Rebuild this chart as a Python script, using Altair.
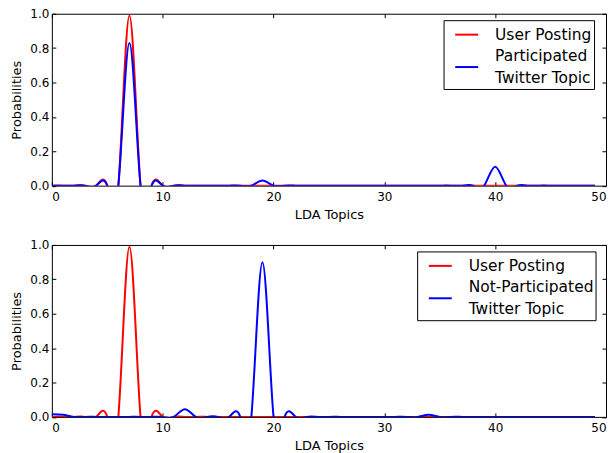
import altair as alt
import pandas as pd

# LDA topic index (0..49)
topics = list(range(50))

# Panel 1 values
user_posting_1 = [0, 0, 0, 0, 0, 0, 0, 0.99, 0, 0,
                  0, 0, 0, 0, 0, 0, 0, 0, 0, 0,
                  0, 0, 0, 0, 0, 0, 0, 0, 0, 0,
                  0, 0, 0, 0, 0, 0, 0, 0, 0, 0,
                  0, 0, 0, 0, 0, 0, 0, 0, 0, 0]
participated_1 = [0, 0, 0, 0, 0, 0, 0, 0.83, 0, 0,
                  0, 0, 0, 0, 0, 0, 0, 0, 0, 0.03,
                  0, 0, 0, 0, 0, 0, 0, 0, 0, 0,
                  0, 0, 0, 0, 0, 0, 0, 0, 0, 0,
                  0.11, 0, 0, 0, 0, 0, 0, 0, 0, 0]

# Panel 2 values
user_posting_2 = [0, 0, 0, 0, 0, 0, 0, 0.99, 0, 0,
                  0, 0, 0, 0, 0, 0, 0, 0, 0, 0,
                  0, 0, 0, 0, 0, 0, 0, 0, 0, 0,
                  0, 0, 0, 0, 0, 0, 0, 0, 0, 0,
                  0, 0, 0, 0, 0, 0, 0, 0, 0, 0]
not_participated_2 = [0.015, 0.012, 0, 0, 0, 0, 0, 0, 0, 0,
                      0, 0, 0.045, 0, 0, 0, 0, 0, 0, 0.90,
                      0, 0, 0, 0, 0, 0, 0, 0, 0, 0,
                      0, 0, 0, 0, 0.012, 0, 0, 0, 0, 0,
                      0, 0, 0, 0, 0, 0, 0, 0, 0, 0]

series_red = "User Posting"
blue_lines_1 = ["Participated", "Twitter Topic"]
blue_lines_2 = ["Not-Participated", "Twitter Topic"]
RED, BLUE = "#ff0000", "#0000ff"

x_ticks = [0, 10, 20, 30, 40, 50]
y_ticks = [0.0, 0.2, 0.4, 0.6, 0.8, 1.0]

FONT = "DejaVu Sans"
W, H = 556, 172.5
PAD = 2
SYM_OFF = 8.7


def make_df(vals, name):
    return pd.DataFrame({"topic": topics, "prob": vals, "series": [name] * len(topics)})


def legend_common():
    return dict(
        title=None,
        orient="none",
        symbolType="stroke",
        symbolSize=529,
        symbolStrokeWidth=2,
        symbolOffset=SYM_OFF,
        labelOffset=16,
        labelFont=FONT,
        labelFontSize=15.5,
        labelColor="black",
        labelLimit=400,
        labelBaseline="middle",
        cornerRadius=0,
    )


def js_list(items):
    return "[" + ", ".join("'" + s + "'" for s in items) + "]"


def panel(red_vals, blue_vals, blue_lines, box_x, box_y):
    blue_name = " ".join(blue_lines)
    xscale = alt.Scale(domain=[0, 50], nice=False)
    yscale = alt.Scale(domain=[0, 1], nice=False)

    # boxed legend carries all label text; second legend adds the blue swatch
    red_legend = alt.Legend(
        legendX=box_x, legendY=box_y,
        padding=PAD,
        strokeColor="black",
        labelExpr=js_list([series_red] + blue_lines),
        **legend_common(),
    )
    blue_legend = alt.Legend(
        legendX=box_x + PAD, legendY=box_y + PAD + 32.5,
        padding=0,
        labelExpr="''",
        **legend_common(),
    )

    red = alt.Chart(make_df(red_vals, series_red)).mark_line(
        interpolate="natural", clip=True, strokeWidth=2
    ).encode(
        x=alt.X("topic:Q", scale=xscale, title="LDA Topics",
                axis=alt.Axis(orient="bottom", values=x_ticks, offset=-4,
                              labelPadding=6, titlePadding=6, format="d",
                              minExtent=0)),
        y=alt.Y("prob:Q", scale=yscale, title="Probabilities",
                axis=alt.Axis(orient="left", values=y_ticks, offset=-4,
                              labelPadding=3, titlePadding=6, format=".1f",
                              minExtent=0)),
        color=alt.Color("series:N",
                        scale=alt.Scale(domain=[series_red], range=[RED]),
                        legend=red_legend),
    )
    blue = alt.Chart(make_df(blue_vals, blue_name)).mark_line(
        interpolate="natural", clip=True, strokeWidth=2
    ).encode(
        x=alt.X("topic:Q", scale=xscale, title=None,
                axis=alt.Axis(orient="top", values=x_ticks, offset=-4,
                              labels=False, minExtent=0)),
        y=alt.Y("prob:Q", scale=yscale, title=None,
                axis=alt.Axis(orient="right", values=y_ticks, offset=-4,
                              labels=False, minExtent=0)),
        color=alt.Color("series:N",
                        scale=alt.Scale(domain=[blue_name], range=[BLUE]),
                        legend=blue_legend),
    )
    return alt.layer(red, blue).resolve_axis(
        x="independent", y="independent"
    ).resolve_scale(color="independent").properties(width=W, height=H)


top = panel(user_posting_1, participated_1, blue_lines_1, 393, 6.5)
bottom = panel(user_posting_2, not_participated_2, blue_lines_2, 366.5, 6.5)

chart = alt.vconcat(top, bottom, spacing=16).resolve_scale(
    color="independent"
).resolve_legend(color="independent").properties(
    padding={"left": 2, "top": -2, "right": 0, "bottom": 0}
).configure(
    style={"guide-label": {"lineHeight": 21.65}}
).configure_view(
    stroke="black", strokeWidth=1
).configure_axis(
    grid=False,
    domain=False,
    tickColor="black",
    tickSize=4,
    tickWidth=1,
    labelFont=FONT,
    labelFontSize=12,
    labelColor="black",
    titleFont=FONT,
    titleFontSize=13,
    titleFontWeight="normal",
    titleColor="black",
)

chart.save("out.html", embed_options={"renderer": "svg", "actions": False})
